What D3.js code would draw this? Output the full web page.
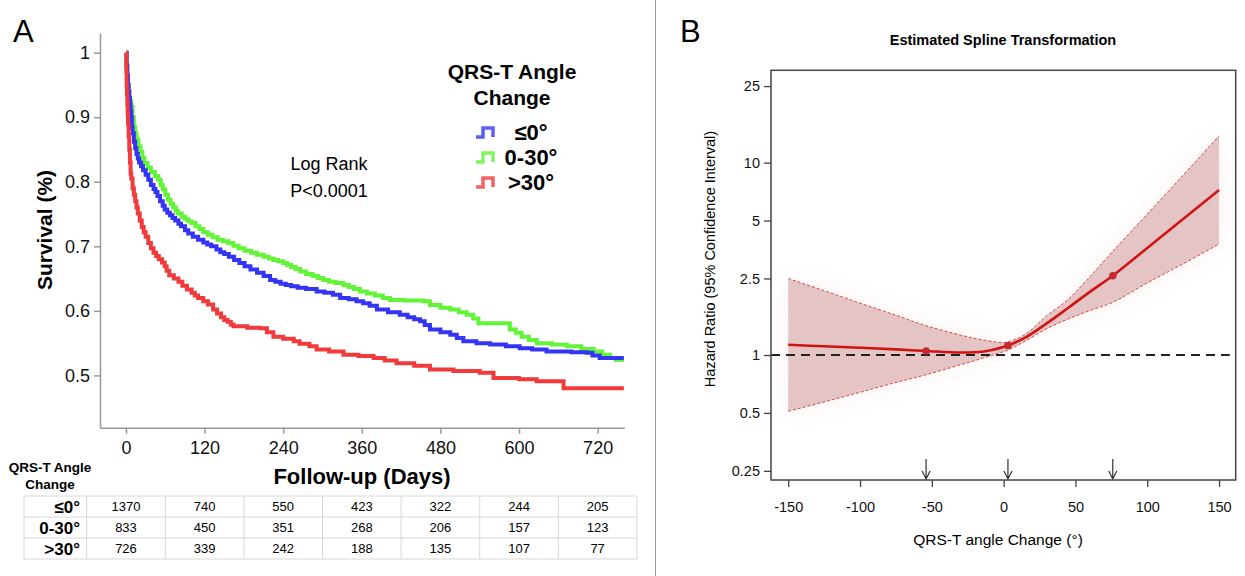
<!DOCTYPE html>
<html>
<head>
<meta charset="utf-8">
<script src="https://cdn.jsdelivr.net/npm/d3@7"></script>
<style>
  body { margin: 0; background: #fff; }
  text { font-family: 'Liberation Sans', Arial, sans-serif; }
</style>
</head>
<body>
<div id="chart"></div>
<script>
// Kaplan-Meier curves, [day, survival]
let kmLe0 = [[0,1.0],[1,0.98],[2,0.965],[3,0.95],[4,0.94],[5,0.93],[6,0.92],[7,0.91],[8,0.90],[9,0.885],[10,0.875],[12,0.862],[14,0.852],[16,0.843],[18,0.836],[20,0.83],[23,0.824],[26,0.818],[30,0.811],[34,0.803],[38,0.795],[42,0.789],[45,0.784],[48,0.778],[52,0.77],[56,0.763],[59,0.757],[63,0.752],[67,0.748],[71,0.744],[75,0.74],[80,0.735],[84,0.731],[90,0.725],[95,0.72],[102,0.715],[110,0.71],[118,0.706],[124,0.703],[130,0.70],[138,0.695],[144,0.691],[150,0.688],[157,0.684],[165,0.679],[173,0.674],[181,0.669],[190,0.664],[200,0.659],[210,0.654],[220,0.648],[228,0.645],[236,0.642],[244,0.64],[252,0.638],[262,0.636],[275,0.634],[291,0.630],[303,0.628],[316,0.625],[327,0.620],[340,0.618],[352,0.615],[362,0.612],[372,0.608],[383,0.602],[400,0.598],[418,0.594],[430,0.59],[440,0.587],[449,0.584],[456,0.578],[464,0.571],[480,0.567],[495,0.563],[505,0.558],[515,0.553],[535,0.55],[556,0.548],[580,0.545],[601,0.542],[620,0.54],[642,0.537],[680,0.536],[703,0.535],[712,0.531],[723,0.527],[760,0.527]]
let km0to30 = [[0,1.0],[1,0.98],[2,0.965],[3,0.95],[4,0.94],[5,0.93],[6,0.925],[8,0.916],[10,0.9],[12,0.885],[14,0.875],[16,0.865],[19,0.855],[22,0.846],[25,0.837],[28,0.829],[33,0.822],[38,0.815],[44,0.809],[49,0.803],[53,0.795],[56,0.788],[60,0.78],[64,0.772],[68,0.766],[72,0.76],[76,0.755],[79,0.751],[85,0.746],[90,0.742],[95,0.739],[100,0.736],[106,0.731],[112,0.727],[118,0.722],[125,0.718],[132,0.714],[140,0.71],[148,0.708],[156,0.705],[164,0.701],[172,0.697],[181,0.693],[191,0.690],[200,0.687],[210,0.684],[218,0.681],[225,0.679],[232,0.677],[240,0.674],[246,0.671],[252,0.668],[259,0.665],[266,0.661],[275,0.657],[285,0.654],[293,0.651],[301,0.648],[310,0.645],[320,0.643],[332,0.640],[340,0.637],[348,0.634],[357,0.630],[368,0.627],[380,0.624],[392,0.62],[403,0.617],[425,0.616],[454,0.615],[464,0.609],[480,0.605],[495,0.602],[508,0.598],[520,0.594],[530,0.588],[538,0.581],[586,0.571],[595,0.566],[604,0.560],[615,0.555],[627,0.550],[650,0.548],[673,0.545],[695,0.541],[714,0.537],[727,0.532],[739,0.527],[748,0.524],[760,0.524]]
let kmGt30 = [[0,1.0],[0.5,0.97],[1,0.95],[1.5,0.935],[2,0.92],[2.5,0.905],[3,0.89],[4,0.87],[5,0.85],[6,0.83],[7,0.813],[8,0.805],[10,0.79],[12,0.78],[14,0.77],[16,0.76],[18,0.751],[21,0.74],[24,0.73],[27,0.722],[30,0.715],[34,0.705],[38,0.697],[42,0.69],[46,0.685],[50,0.68],[55,0.675],[59,0.669],[62,0.662],[66,0.655],[73,0.65],[80,0.645],[86,0.639],[93,0.633],[100,0.628],[105,0.624],[110,0.62],[118,0.615],[125,0.61],[133,0.602],[139,0.596],[145,0.59],[150,0.586],[155,0.583],[160,0.579],[164,0.576],[185,0.574],[205,0.573],[215,0.567],[225,0.560],[240,0.557],[256,0.553],[265,0.549],[280,0.545],[291,0.540],[310,0.537],[332,0.532],[355,0.53],[378,0.527],[395,0.523],[413,0.519],[440,0.515],[464,0.509],[500,0.507],[540,0.504],[561,0.496],[600,0.494],[627,0.491],[668,0.480],[760,0.480]]

let groupNames = ['≤0°', '0-30°', '>30°']
let groupColors = ['#3434f4', '#62f436', '#f03a3c']
let dayTicks = [0, 120, 240, 360, 480, 600, 720]
let survTicks = [0.5, 0.6, 0.7, 0.8, 0.9, 1]

// Numbers at risk
let riskLe0 = [1370, 740, 550, 423, 322, 244, 205]
let risk0to30 = [833, 450, 351, 268, 206, 157, 123]
let riskGt30 = [726, 339, 242, 188, 135, 107, 77]

// Spline estimate (panel B)
let splineX = [-150, -125, -100, -75, -54, -30, -15, 0, 3, 15, 30, 45, 60, 76, 100, 125, 150]
let splineHr = [1.13, 1.11, 1.09, 1.07, 1.05, 1.03, 1.04, 1.10, 1.12, 1.23, 1.46, 1.76, 2.13, 2.58, 3.6, 5.1, 7.2]
let splineLower = [0.51, 0.57, 0.64, 0.72, 0.79, 0.89, 0.96, 1.04, 1.06, 1.18, 1.37, 1.54, 1.70, 1.88, 2.37, 2.98, 3.77]
let splineUpper = [2.50, 2.16, 1.86, 1.61, 1.42, 1.27, 1.20, 1.16, 1.17, 1.28, 1.60, 1.95, 2.55, 3.46, 5.4, 8.6, 13.8]
let knots = [-54, 3, 76]
let hrTicks = [0.25, 0.5, 1, 2.5, 5, 10, 25]
let angleTicks = [-150, -100, -50, 0, 50, 100, 150]

let svg = d3.select('#chart').append('svg')
  .attr('width', 1245)
  .attr('height', 576)

svg.append('rect').attr('width', 1245).attr('height', 576).attr('fill', '#fff')

// Divider between panels
svg.append('line')
  .attr('x1', 655.5).attr('x2', 655.5)
  .attr('y1', 0).attr('y2', 576)
  .attr('stroke', '#999').attr('stroke-width', 1)

// ---------- Panel A ----------
let x = d3.scaleLinear().domain([-39.7, 760.7]).range([100, 624.3])
let y = d3.scaleLinear().domain([0.419, 1.0305]).range([427.7, 33])

svg.append('text').attr('x', 13).attr('y', 42)
  .attr('font-size', 31).text('A')

let yAxis = svg.append('g')
  .attr('transform', 'translate(100, 0)')
  .call(d3.axisLeft(y).tickValues(survTicks).tickFormat(d3.format('')).tickSize(6).tickSizeOuter(0))
yAxis.selectAll('text').attr('font-size', 18).attr('fill', '#111').attr('dx', -1)

let xAxis = svg.append('g')
  .attr('transform', 'translate(0, 427.7)')
  .call(d3.axisBottom(x).tickValues(dayTicks).tickSize(6).tickSizeOuter(0))
xAxis.selectAll('text').attr('font-size', 18).attr('fill', '#111').attr('dy', '0.95em')

svg.selectAll('.domain, .tick line').attr('stroke', '#999').attr('stroke-width', 1.5)
svg.selectAll('.tick text').attr('font-family', "'Liberation Sans', Arial, sans-serif")

svg.append('text')
  .attr('transform', 'translate(52, 230) rotate(-90)')
  .attr('text-anchor', 'middle')
  .attr('font-size', 21).attr('font-weight', 'bold')
  .text('Survival (%)')

svg.append('text').attr('x', 362).attr('y', 484)
  .attr('text-anchor', 'middle')
  .attr('font-size', 22).attr('font-weight', 'bold')
  .text('Follow-up (Days)')

let km = d3.line()
  .x(d => x(d[0]))
  .y(d => y(d[1]))
  .curve(d3.curveStepAfter)

;[km0to30, kmLe0, kmGt30].forEach((data, i) => {
  let idx = [1, 0, 2][i]
  svg.append('path')
    .datum(data)
    .attr('fill', 'none')
    .attr('stroke', groupColors[idx])
    .attr('stroke-width', 4)
    .attr('d', km)
})

// Log rank note
svg.append('text').attr('x', 329).attr('y', 170)
  .attr('text-anchor', 'middle').attr('font-size', 18).text('Log Rank')
svg.append('text').attr('x', 329).attr('y', 197)
  .attr('text-anchor', 'middle').attr('font-size', 18).text('P<0.0001')

// Legend
svg.append('text').attr('x', 512).attr('y', 79)
  .attr('text-anchor', 'middle').attr('font-size', 21).attr('font-weight', 'bold')
  .text('QRS-T Angle')
svg.append('text').attr('x', 512).attr('y', 105)
  .attr('text-anchor', 'middle').attr('font-size', 21).attr('font-weight', 'bold')
  .text('Change')

groupNames.forEach((name, i) => {
  let cy = 132 + i * 25
  svg.append('path')
    .attr('d', `M476,${cy + 5} L483,${cy + 5} L483,${cy - 4} L493,${cy - 4} L493,${cy + 5}`)
    .attr('fill', 'none')
    .attr('stroke', groupColors[i])
    .attr('stroke-opacity', 0.8)
    .attr('stroke-width', 3.5)
  svg.append('text').attr('x', 531).attr('y', cy + 8)
    .attr('text-anchor', 'middle').attr('font-size', 22).attr('font-weight', 'bold')
    .text(name)
})

// Number at risk table
svg.append('text').attr('x', 50).attr('y', 472)
  .attr('text-anchor', 'middle').attr('font-size', 13.5).attr('font-weight', 'bold')
  .text('QRS-T Angle')
svg.append('text').attr('x', 50).attr('y', 489)
  .attr('text-anchor', 'middle').attr('font-size', 13.5).attr('font-weight', 'bold')
  .text('Change')

let colW = x(120) - x(0)
let tableTop = 496
let rowH = 21
let tableLeft = 24
let tableRight = x(720) + colW / 2
let riskRows = [riskLe0, risk0to30, riskGt30]

let grid = svg.append('g').attr('stroke', '#d8d8d8').attr('stroke-width', 1)
d3.range(4).forEach(r => {
  grid.append('line')
    .attr('x1', tableLeft).attr('x2', tableRight)
    .attr('y1', tableTop + r * rowH).attr('y2', tableTop + r * rowH)
})
;[tableLeft].concat(dayTicks.map(d => x(d) - colW / 2), [tableRight]).forEach(cx => {
  grid.append('line')
    .attr('x1', cx).attr('x2', cx)
    .attr('y1', tableTop).attr('y2', tableTop + 3 * rowH)
})

riskRows.forEach((row, r) => {
  let cy = tableTop + r * rowH + rowH / 2
  svg.append('text').attr('x', 80).attr('y', cy + 6)
    .attr('text-anchor', 'end').attr('font-size', 17).attr('font-weight', 'bold')
    .text(groupNames[r])
  row.forEach((v, c) => {
    svg.append('text').attr('x', x(dayTicks[c])).attr('y', cy + 4.5)
      .attr('text-anchor', 'middle').attr('font-size', 13)
      .text(v)
  })
})

// ---------- Panel B ----------
let xB = d3.scaleLinear().domain([-162, 161.6]).range([771, 1235.7])
let yB = d3.scaleLog().domain([0.224, 30.2]).range([480, 70.3])

svg.append('text').attr('x', 680).attr('y', 42)
  .attr('font-size', 31).text('B')

svg.append('text').attr('x', 1003).attr('y', 45)
  .attr('text-anchor', 'middle').attr('font-size', 14.5).attr('font-weight', 'bold')
  .text('Estimated Spline Transformation')

let spline = splineX.map((v, i) => ({ x: v, hr: splineHr[i], lo: splineLower[i], hi: splineUpper[i] }))

let defs = svg.append('defs')
defs.append('filter').attr('id', 'glow')
  .attr('x', '-20%').attr('y', '-20%').attr('width', '140%').attr('height', '140%')
  .append('feGaussianBlur').attr('stdDeviation', 14)

let smooth = d3.curveCatmullRom.alpha(0.5)

let band = d3.area()
  .x(d => xB(d.x))
  .y0(d => yB(d.lo))
  .y1(d => yB(d.hi))
  .curve(smooth)

// faint halo around the confidence band
svg.append('path')
  .datum(spline)
  .attr('d', band)
  .attr('fill', '#f0c8c8')
  .attr('opacity', 0.25)
  .attr('filter', 'url(#glow)')

svg.append('path')
  .datum(spline)
  .attr('d', band)
  .attr('fill', '#e4c4c4')

let edge = key => d3.line()
  .x(d => xB(d.x))
  .y(d => yB(d[key]))
  .curve(smooth)

;['lo', 'hi'].forEach(key => {
  svg.append('path')
    .datum(spline)
    .attr('d', edge(key))
    .attr('fill', 'none')
    .attr('stroke', '#d84848')
    .attr('stroke-width', 1)
    .attr('stroke-dasharray', '3,2')
})

// reference line at HR = 1
svg.append('line')
  .attr('x1', 771).attr('x2', xB(157.5))
  .attr('y1', yB(1)).attr('y2', yB(1))
  .attr('stroke', '#222').attr('stroke-width', 2)
  .attr('stroke-dasharray', '9,6')

svg.append('path')
  .datum(spline)
  .attr('d', edge('hr'))
  .attr('fill', 'none')
  .attr('stroke', '#d01414')
  .attr('stroke-width', 2.6)

svg.selectAll('.knot')
  .data(knots)
  .enter()
  .append('circle')
  .attr('class', 'knot')
  .attr('cx', d => xB(d))
  .attr('cy', d => yB(splineHr[splineX.indexOf(d)]))
  .attr('r', 3.8)
  .attr('fill', '#c42a2e')

// knot arrows
knots.forEach(k => {
  let kx = xB(k)
  svg.append('path')
    .attr('d', `M${kx},459 L${kx},479 M${kx - 4},471 L${kx},479 L${kx + 4},471`)
    .attr('fill', 'none')
    .attr('stroke', '#333')
    .attr('stroke-width', 1.2)
})

// frame
svg.append('rect')
  .attr('x', 771).attr('y', 70.3)
  .attr('width', 1235.7 - 771).attr('height', 480 - 70.3)
  .attr('fill', 'none').attr('stroke', '#444').attr('stroke-width', 1.5)

let yAxisB = svg.append('g')
  .attr('transform', 'translate(771, 0)')
  .call(d3.axisLeft(yB).tickValues(hrTicks).tickFormat(d => String(d)).tickSize(7).tickSizeOuter(0))
yAxisB.select('.domain').remove()
yAxisB.selectAll('.tick line').attr('stroke', '#444').attr('stroke-width', 1.3)
yAxisB.selectAll('text').attr('font-size', 14.5).attr('fill', '#111').attr('dx', -1)

let xAxisB = svg.append('g')
  .attr('transform', 'translate(0, 480)')
  .call(d3.axisBottom(xB).tickValues(angleTicks).tickFormat(d => String(d)).tickSize(7).tickSizeOuter(0))
xAxisB.select('.domain').remove()
xAxisB.selectAll('.tick line').attr('stroke', '#444').attr('stroke-width', 1.3)
xAxisB.selectAll('text').attr('font-size', 14.5).attr('fill', '#111').attr('dy', '1.55em')

svg.selectAll('.tick text').attr('font-family', "'Liberation Sans', Arial, sans-serif")

svg.append('text')
  .attr('transform', 'translate(715, 259) rotate(-90)')
  .attr('text-anchor', 'middle')
  .attr('font-size', 14.5)
  .text('Hazard Ratio (95% Confidence Interval)')

svg.append('text').attr('x', 998).attr('y', 545)
  .attr('text-anchor', 'middle').attr('font-size', 15.5)
  .text('QRS-T angle Change (°)')
</script>
</body>
</html>
